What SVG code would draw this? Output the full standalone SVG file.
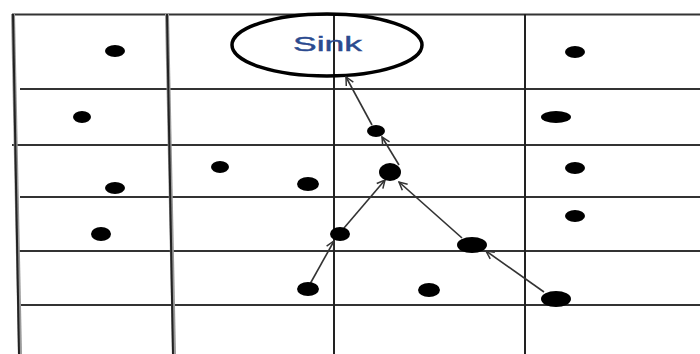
<svg xmlns="http://www.w3.org/2000/svg" width="700" height="354" viewBox="0 0 700 354">
<style>
.grid{stroke:#333;stroke-width:2;fill:none}
.vgrid{stroke:#222;stroke-width:2;fill:none}
.vgray{stroke:#9a9a9a;stroke-width:4;fill:none}
.dot{fill:#000}
.edge{stroke:#333;stroke-width:1.6;fill:none;marker-end:url(#arr)}
.label{font-family:"Liberation Sans",Arial,sans-serif;font-size:21px;fill:#2b4a8f;stroke:#2b4a8f;stroke-width:0.4}
</style>
<defs>
<marker id="arr" viewBox="0 0 10 10" refX="9" refY="5" markerWidth="10" markerHeight="10" markerUnits="userSpaceOnUse" orient="auto">
<path d="M1,1 L9,5 L1,9" fill="none" stroke="#333" stroke-width="1.5"/>
</marker>
</defs>
<rect width="700" height="354" fill="#fff"/>
<g id="grid">
<line class="grid" x1="12" y1="14.5" x2="700" y2="14.5"/>
<line class="grid" x1="20" y1="89" x2="700" y2="89"/>
<line class="grid" x1="12" y1="145" x2="700" y2="145"/>
<line class="grid" x1="20" y1="197" x2="700" y2="197"/>
<line class="grid" x1="18" y1="251" x2="700" y2="251"/>
<line class="grid" x1="18" y1="305" x2="700" y2="305"/>
<line class="vgray" x1="13" y1="14" x2="20" y2="354"/>
<line class="vgrid" x1="13" y1="14" x2="19" y2="354" stroke-width="1"/>
<line class="vgray" x1="167" y1="14" x2="174" y2="354" stroke-width="3"/>
<line class="vgrid" x1="167" y1="14" x2="173" y2="354" stroke-width="1.2"/>
<line class="vgrid" x1="334" y1="14" x2="334" y2="354"/>
<line class="vgrid" x1="525" y1="14" x2="525" y2="354"/>
</g>
<g id="sink">
<ellipse cx="327" cy="45" rx="95" ry="31" fill="none" stroke="#000" stroke-width="3.5"/>
<text class="label" x="293" y="50.5" textLength="69" lengthAdjust="spacingAndGlyphs">Sink</text>
</g>
<g id="connectors">
<line class="edge" x1="310" y1="284" x2="334" y2="241"/>
<line class="edge" x1="344" y1="228" x2="385" y2="180"/>
<line class="edge" x1="462" y1="238" x2="399" y2="182"/>
<line class="edge" x1="544" y1="292" x2="486" y2="251"/>
<line class="edge" x1="399" y1="165" x2="382" y2="137"/>
<line class="edge" x1="372" y1="125" x2="346" y2="77"/>
</g>
<g id="n1"><ellipse class="dot" cx="115" cy="51" rx="10" ry="6"/></g>
<g id="n2"><ellipse class="dot" cx="82" cy="117" rx="9" ry="6"/></g>
<g id="n3"><ellipse class="dot" cx="220" cy="167" rx="9" ry="6"/></g>
<g id="n4"><ellipse class="dot" cx="115" cy="188" rx="10" ry="6"/></g>
<g id="n5"><ellipse class="dot" cx="308" cy="184" rx="11" ry="7"/></g>
<g id="n6"><ellipse class="dot" cx="101" cy="234" rx="10" ry="7"/></g>
<g id="n7"><ellipse class="dot" cx="308" cy="289" rx="11" ry="7"/></g>
<g id="n8"><ellipse class="dot" cx="340" cy="234" rx="10" ry="7"/></g>
<g id="n9"><ellipse class="dot" cx="376" cy="131" rx="9" ry="6"/></g>
<g id="n10"><ellipse class="dot" cx="390" cy="172" rx="11" ry="9"/></g>
<g id="n11"><ellipse class="dot" cx="472" cy="245" rx="15" ry="8"/></g>
<g id="n12"><ellipse class="dot" cx="429" cy="290" rx="11" ry="7"/></g>
<g id="n13"><ellipse class="dot" cx="556" cy="299" rx="15" ry="8"/></g>
<g id="n14"><ellipse class="dot" cx="575" cy="52" rx="10" ry="6"/></g>
<g id="n15"><ellipse class="dot" cx="556" cy="117" rx="15" ry="6"/></g>
<g id="n16"><ellipse class="dot" cx="575" cy="168" rx="10" ry="6"/></g>
<g id="n17"><ellipse class="dot" cx="575" cy="216" rx="10" ry="6"/></g>
</svg>
